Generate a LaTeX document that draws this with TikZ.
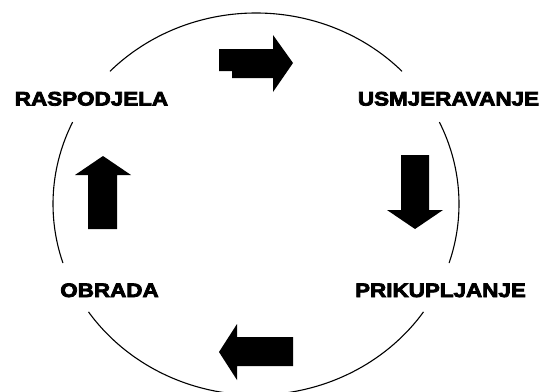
\documentclass[tikz,border=0pt]{standalone}
\usepackage{fontspec}
\newfontfamily\lblfont[FakeStretch=1.15,FakeBold=4]{Liberation Sans Bold}
\begin{document}
\begin{tikzpicture}[x=1pt,y=-1pt,
  lbl/.style={inner sep=0pt,anchor=base,font=\lblfont\fontsize{19.5}{22}\selectfont},
  ring/.style={line width=1.1pt,black},
  blockarrow/.style={fill=black,draw=none}]
\useasboundingbox (0,0) rectangle (545,391);
\coordinate (C) at (256,204);
% labels
\node[lbl] (rasp) at (91.5,105.5) {RASPODJELA};
\node[lbl] (usmj) at (448.5,105.5) {USMJERAVANJE};
\node[lbl] (obr) at (109.5,297) {OBRADA};
\node[lbl] (prik) at (440.5,297) {PRIKUPLJANJE};
% ring segments (ellipse centred at C)
\draw[ring] ([shift={(-44:203 and 191)}]C) arc[start angle=-44, end angle=-136, x radius=203, y radius=191];
\draw[ring] ([shift={(-154.6:203 and 191)}]C) arc[start angle=-154.6, end angle=-198, x radius=203, y radius=191];
\draw[ring] ([shift={(-214.4:203 and 191)}]C) arc[start angle=-214.4, end angle=-325.6, x radius=203, y radius=191];
\draw[ring] ([shift={(-25.4:203 and 191)}]C) arc[start angle=-25.4, end angle=18, x radius=203, y radius=191];
% block arrows
\fill[blockarrow] (219,49) -- (273,49) -- (273,35) -- (293,63) -- (273,92) -- (273,78) -- (232,78) -- (232,71) -- (219,71) -- cycle;
\fill[blockarrow] (401,155) -- (429,155) -- (429,210) -- (443,210) -- (415,229) -- (387,210) -- (401,210) -- cycle;
\fill[blockarrow] (293,337) -- (293,366) -- (237,366) -- (237,380) -- (219,352) -- (237,324) -- (237,337) -- cycle;
\fill[blockarrow] (88,229) -- (88,175) -- (75,175) -- (103,156) -- (131,175) -- (117,175) -- (117,229) -- cycle;
\end{tikzpicture}
\end{document}
